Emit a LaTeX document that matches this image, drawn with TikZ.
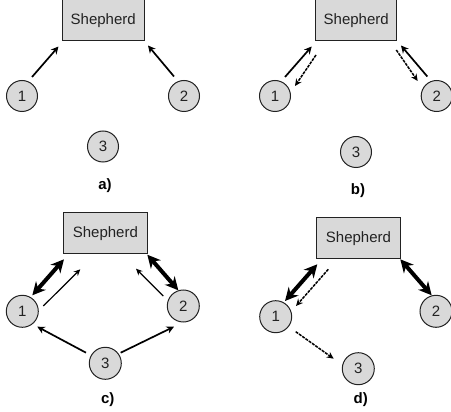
\documentclass[tikz,border=0pt]{standalone}
\usepackage{fontspec}
\setmainfont{Liberation Sans}
\usetikzlibrary{arrows.meta}
\definecolor{boxfill}{HTML}{D9D9D9}
\definecolor{inkc}{HTML}{222222}
\tikzset{
  shepherd/.style={draw=inkc,line width=1pt,fill=boxfill,minimum width=81.5pt,minimum height=40.5pt,inner sep=0pt,font=\fontsize{15}{15}\selectfont,text=inkc},
  peer/.style={circle,draw=inkc,line width=1pt,fill=boxfill,minimum size=31pt,inner sep=0pt,font=\fontsize{15}{15}\selectfont,text=inkc},
  caption/.style={inner sep=0pt,font=\fontsize{15}{15}\selectfont\bfseries},
  solidarr/.style={-{Stealth[length=7.5pt,width=7.5pt]},line width=1.7pt,black},
  thinarr/.style={-{Stealth[length=6.5pt,width=6pt]},line width=1.2pt,black},
  dasharr/.style={-{Stealth[length=7pt,width=6.5pt]},line width=1.5pt,black,dash pattern=on 3pt off 1pt},
  thickarr/.style={{Stealth[length=13pt,width=13pt]}-{Stealth[length=13pt,width=13pt]},line width=4pt,black},
}
\newcommand{\at}[2]{([shift={#2}]#1.center)}
\begin{document}
\begin{tikzpicture}[x=1pt,y=-1pt]
\useasboundingbox (0,0) rectangle (451,412);
% a
\node[shepherd] (as) at (103.25,20.25) {Shepherd};
\node[peer] (a1) at (22,96) {1};
\node[peer] (a2) at (184,96) {2};
\node[peer] (a3) at (103,146.5) {3};
\node[caption] (acap) at (105,186) {a)};
\draw[solidarr] \at{a1}{(10,-19)} -- \at{as}{(-44.75,26.25)};
\draw[solidarr] \at{a2}{(-10,-19.5)} -- \at{as}{(44.75,25.25)};
% b
\node[shepherd] (bs) at (356.2,20.25) {Shepherd};
\node[peer] (b1) at (275,96) {1};
\node[peer] (b2) at (436.7,96) {2};
\node[peer] (b3) at (356,152) {3};
\node[caption] (bcap) at (358,191) {b)};
\draw[solidarr] \at{b1}{(10,-19)} -- \at{bs}{(-44.5,26.25)};
\draw[dasharr] \at{bs}{(-40.2,34.75)} -- \at{b1}{(20,-10)};
\draw[solidarr] \at{b2}{(-9.4,-19.5)} -- \at{bs}{(44.8,25.25)};
\draw[dasharr] \at{bs}{(40.1,29.75)} -- \at{b2}{(-19,-15)};
% c
\node[shepherd,minimum width=83.8pt,minimum height=41.3pt] (cs) at (105.4,233.35) {Shepherd};
\node[peer,minimum size=32pt] (c1) at (22.3,311.3) {1};
\node[peer,minimum size=32pt] (c2) at (183.3,306) {2};
\node[peer,minimum size=32pt] (c3) at (105.3,363.3) {3};
\node[caption] (ccap) at (107.7,399.3) {c)};
\draw[thickarr] \at{c1}{(10,-16)} -- \at{cs}{(-41.4,25.95)};
\draw[thinarr] \at{c1}{(21,-5.3)} -- \at{cs}{(-25.1,35.95)};
\draw[thickarr] \at{cs}{(41.9,21.35)} -- \at{c2}{(-5,-15.7)};
\draw[thinarr] \at{c2}{(-20,-10)} -- \at{cs}{(30.6,35.35)};
\draw[solidarr] \at{c3}{(-19.3,-10.6)} -- \at{c1}{(15,15.4)};
\draw[solidarr] \at{c3}{(15.4,-10.6)} -- \at{c2}{(-9.3,20.7)};
% d
\node[shepherd,minimum width=83.8pt,minimum height=41.3pt] (ds) at (358.5,238.35) {Shepherd};
\node[peer,minimum size=32pt] (d1) at (275.7,316.7) {1};
\node[peer,minimum size=32pt] (d2) at (436,311.3) {2};
\node[peer,minimum size=32pt] (d3) at (358.3,368.7) {3};
\node[caption] (dcap) at (360.7,399.3) {d)};
\draw[thickarr] \at{d1}{(9.3,-15.7)} -- \at{ds}{(-41.2,25.95)};
\draw[dasharr] \at{ds}{(-30.2,30.95)} -- \at{d1}{(20.3,-10.7)};
\draw[dasharr] \at{d1}{(20,15)} -- \at{d3}{(-24.6,-10)};
\draw[thickarr] \at{ds}{(41.8,20.95)} -- \at{d2}{(-4.3,-16)};
\end{tikzpicture}
\end{document}
